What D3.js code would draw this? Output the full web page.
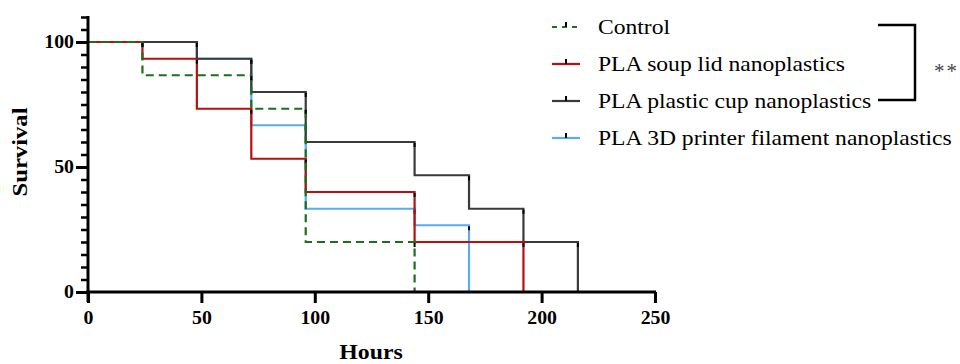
<!DOCTYPE html>
<html>
<head>
<meta charset="utf-8">
<script src="https://cdn.jsdelivr.net/npm/d3@7"></script>
<style>
  body { margin: 0; background: #fff; }
  svg { font-family: "Liberation Serif", "DejaVu Serif", serif; }
</style>
</head>
<body>
<svg id="canvas" width="960" height="364"></svg>
<script>
const width = 960
const height = 364

// Kaplan-Meier steps, time (hours) and survival (%)
const seriesNames = ["Control", "PLA soup lid nanoplastics", "PLA plastic cup nanoplastics", "PLA 3D printer filament nanoplastics"]
const controlTimes = [0, 24, 72, 96, 144]
const controlSurv = [100, 86.7, 73.3, 20, 0]
const soupTimes = [0, 24, 48, 72, 96, 144, 192]
const soupSurv = [100, 93.3, 73.3, 53.3, 40, 20, 0]
const cupTimes = [0, 48, 72, 96, 144, 168, 192, 216]
const cupSurv = [100, 93.3, 80, 60, 46.7, 33.3, 20, 0]
const printerTimes = [0, 48, 72, 96, 144, 168]
const printerSurv = [100, 93.3, 66.7, 33.3, 26.7, 0]
const seriesColors = ["#1e6e1e", "#b80f0f", "#3a3a3a", "#5aaaf5"]

const xTicks = [0, 50, 100, 150, 200, 250]
const yTicks = [0, 50, 100]

const margin = {left: 88, right: 305, top: 17, bottom: 72}

const x = d3.scaleLinear().domain([0, 250]).range([margin.left, width - margin.right])
const y = d3.scaleLinear().domain([0, 110]).range([height - margin.bottom, margin.top])

const canvas = d3.select("#canvas")

const series = [
    {name: seriesNames[0], t: controlTimes, s: controlSurv, color: seriesColors[0], dash: "8,5"},
    {name: seriesNames[1], t: soupTimes, s: soupSurv, color: seriesColors[1], dash: null},
    {name: seriesNames[2], t: cupTimes, s: cupSurv, color: seriesColors[2], dash: null},
    {name: seriesNames[3], t: printerTimes, s: printerSurv, color: seriesColors[3], dash: null}
]

function stepPoints(d) {
    var pts = []
    d.t.forEach((t, i) => {
        if (i > 0) pts.push([t, d.s[i - 1]])
        pts.push([t, d.s[i]])
    })
    return pts
}

const line = d3.line().x(p => x(p[0])).y(p => y(p[1]))

// draw order: blue, black, red, green on top
const drawOrder = [3, 2, 1, 0]
drawOrder.forEach(k => {
    var d = series[k]
    canvas.append("path")
        .attr("d", line(stepPoints(d)))
        .attr("fill", "none")
        .attr("stroke", d.color)
        .attr("stroke-width", 2.2)
        .attr("stroke-dasharray", d.dash)
    // small black marks at each drop
    d.t.forEach((t, i) => {
        if (i == 0) return
        canvas.append("line")
            .attr("x1", x(t)).attr("x2", x(t))
            .attr("y1", y(d.s[i - 1]) + 1).attr("y2", y(d.s[i - 1]) + 5)
            .attr("stroke", "black")
            .attr("stroke-width", 2)
    })
})

// axes
const xAxis = d3.axisBottom(x).tickValues(xTicks).tickSize(11).tickPadding(8)
const gx = canvas.append("g")
    .attr("transform", `translate(0,${y(0)})`)
    .call(xAxis)
gx.select(".domain").attr("stroke-width", 3).attr("d", `M${x(0) - 2},0H${x(250) + 1}`)
gx.selectAll(".tick line").attr("stroke-width", 3)
gx.selectAll("text").attr("font-size", 18).attr("font-weight", "bold")
    .attr("font-family", "Liberation Serif").attr("fill", "black")
    .attr("transform", "scale(1.1,1)")
    .attr("x", 0)

const yMinor = d3.range(0, 111, 5)
const gyMinor = canvas.append("g")
    .attr("transform", `translate(${x(0)},0)`)
    .call(d3.axisLeft(y).tickValues(yMinor).tickSize(7).tickFormat(""))
gyMinor.select(".domain").attr("stroke-width", 3).attr("d", `M0,${y(0) + 10}V${y(110) - 1}`)
gyMinor.selectAll(".tick line").attr("stroke-width", 2.5)

const gy = canvas.append("g")
    .attr("transform", `translate(${x(0)},0)`)
    .call(d3.axisLeft(y).tickValues(yTicks).tickSize(12).tickPadding(2))
gy.select(".domain").remove()
gy.selectAll(".tick line").attr("stroke-width", 3)
gy.selectAll("text").attr("font-size", 18).attr("font-weight", "bold")
    .attr("font-family", "Liberation Serif").attr("fill", "black")
    .attr("transform", "translate(-14,0) scale(1.1,1)")
    .attr("x", 0)

// axis titles
canvas.append("text")
    .attr("transform", `translate(371,359) scale(1.08,1)`)
    .attr("text-anchor", "middle")
    .attr("font-size", 22)
    .attr("font-weight", "bold")
    .text("Hours")

canvas.append("text")
    .attr("transform", `translate(27,${y(56)}) rotate(-90) scale(1.12,1)`)
    .attr("text-anchor", "middle")
    .attr("font-size", 22)
    .attr("font-weight", "bold")
    .text("Survival")

// legend
const legendY = [27, 64, 101, 138]
const legend = canvas.selectAll(".legend")
    .data(series)
    .enter().append("g")
    .attr("transform", (d, i) => `translate(552,${legendY[i]})`)

legend.append("line")
    .attr("x1", 0).attr("x2", 28).attr("y1", 0).attr("y2", 0)
    .attr("stroke", d => d.color)
    .attr("stroke-width", 2.2)
    .attr("stroke-dasharray", d => d.dash ? "5,5" : null)
legend.append("line")
    .attr("x1", 14).attr("x2", 14).attr("y1", -5).attr("y2", 0)
    .attr("stroke", "black")
    .attr("stroke-width", 2)
legend.append("text")
    .attr("transform", "translate(46,7) scale(1.18,1)")
    .attr("font-size", 20)
    .text(d => d.name)

// significance bracket
canvas.append("path")
    .attr("d", `M878,${legendY[0] - 2}H915V${legendY[2] - 1}H878`)
    .attr("fill", "none")
    .attr("stroke", "black")
    .attr("stroke-width", 2.5)
canvas.append("text")
    .attr("x", 934)
    .attr("y", 78)
    .attr("font-size", 21)
    .attr("letter-spacing", 2)
    .attr("fill", "#444")
    .text("**")
</script>
</body>
</html>
